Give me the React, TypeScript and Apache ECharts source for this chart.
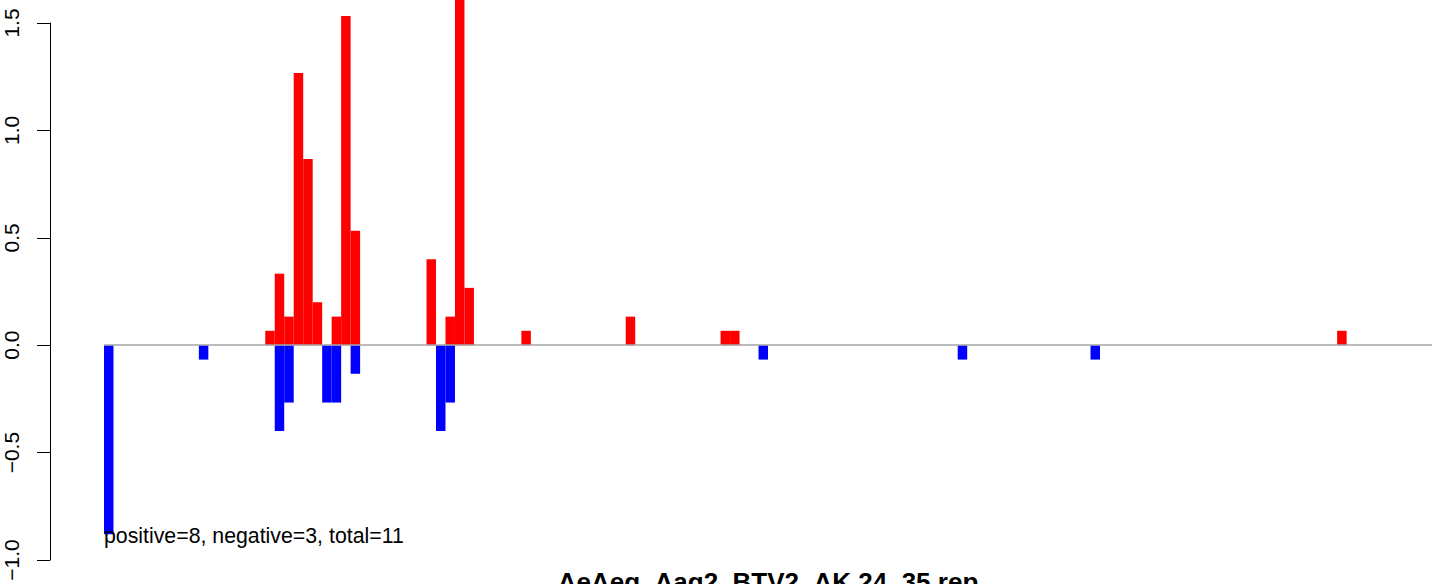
import React, { useEffect, useRef } from "react";
import * as echarts from "echarts";

// number of position bins along the x axis
const binCount = 140;

// positive (red) bars: bin index and value
const posBins = [17, 18, 19, 20, 21, 22, 24, 25, 26, 34, 36, 37, 38, 44, 55, 65, 66, 130];
const posVals = [0.067, 0.333, 0.133, 1.267, 0.867, 0.2, 0.133, 1.533, 0.533, 0.4, 0.133, 1.8, 0.267, 0.067, 0.133, 0.067, 0.067, 0.067];

// negative (blue) bars: bin index and value
const negBins = [0, 10, 18, 19, 23, 24, 26, 35, 36, 69, 90, 104];
const negVals = [-0.88, -0.067, -0.4, -0.267, -0.267, -0.267, -0.133, -0.4, -0.267, -0.067, -0.067, -0.067];

const yMin = -1;
const yMax = 1.5;
const yStep = 0.5;

const titleText = "AeAeg_Aag2_BTV2_AK.24_35.rep";
const noteText = "positive=8, negative=3, total=11";

const FONT = "Liberation Sans, Arial, Helvetica, sans-serif";

function buildSeries(bins: number[], vals: number[]) {
  const arr: (number | null)[] = new Array(binCount).fill(null);
  bins.forEach((b, i) => {
    arr[b] = vals[i];
  });
  return arr;
}

export default function App() {
  const ref = useRef<HTMLDivElement>(null);

  useEffect(() => {
    if (!ref.current) return;
    const chart = echarts.init(ref.current, null, { renderer: "svg" });
    const categories = Array.from({ length: binCount }, (_, i) => String(i + 1));

    chart.setOption({
      animation: false,
      backgroundColor: "#ffffff",
      title: {
        text: titleText,
        left: 768,
        top: 569,
        padding: 0,
        textAlign: "center",
        textStyle: { fontSize: 26, fontWeight: "bold", fontFamily: FONT, color: "#000" },
      },
      grid: [
        { left: 50, width: 10, top: 23, bottom: 24 },
        { left: 104, right: 12, top: 23, bottom: 24 },
      ],
      xAxis: [
        { type: "category", gridIndex: 0, data: ["a"], show: false },
        { type: "category", gridIndex: 1, data: categories, show: false, boundaryGap: true },
      ],
      yAxis: [
        {
          type: "value",
          gridIndex: 0,
          min: yMin,
          max: yMax,
          interval: yStep,
          position: "left",
          axisLine: { show: true, lineStyle: { color: "#000", width: 1 } },
          axisTick: { show: true, length: 13, lineStyle: { color: "#000", width: 1 } },
          axisLabel: {
            rotate: 90,
            margin: 28,
            fontSize: 21,
            fontFamily: FONT,
            color: "#000",
            showMinLabel: true,
            showMaxLabel: true,
            formatter: (v: number) => v.toFixed(1).replace("-", "\u2212"),
          },
          splitLine: { show: false },
        },
        {
          type: "value",
          gridIndex: 1,
          min: yMin,
          max: yMax,
          interval: yStep,
          show: false,
          splitLine: { show: false },
        },
      ],
      series: [
        {
          type: "bar",
          xAxisIndex: 1,
          yAxisIndex: 1,
          data: buildSeries(posBins, posVals),
          itemStyle: { color: "#ff0000" },
          barCategoryGap: "0%",
          barGap: "-100%",
          clip: false,
        },
        {
          type: "bar",
          xAxisIndex: 1,
          yAxisIndex: 1,
          data: buildSeries(negBins, negVals),
          itemStyle: { color: "#0000ff" },
          barCategoryGap: "0%",
          barGap: "-100%",
          clip: false,
          markLine: {
            silent: true,
            symbol: "none",
            label: { show: false },
            lineStyle: { color: "#a6a6a6", width: 1.5, type: "solid" },
            data: [{ yAxis: 0 }],
          },
        },
      ],
      graphic: [
        {
          type: "text",
          left: 104,
          top: 525,
          z: 100,
          style: { text: noteText, font: `21.3px ${FONT}`, fill: "#000" },
        },
      ],
    });

    return () => chart.dispose();
  }, []);

  return (
    <div
      ref={ref}
      style={{ position: "absolute", left: 0, top: 0, width: 1444, height: 584 }}
    />
  );
}
